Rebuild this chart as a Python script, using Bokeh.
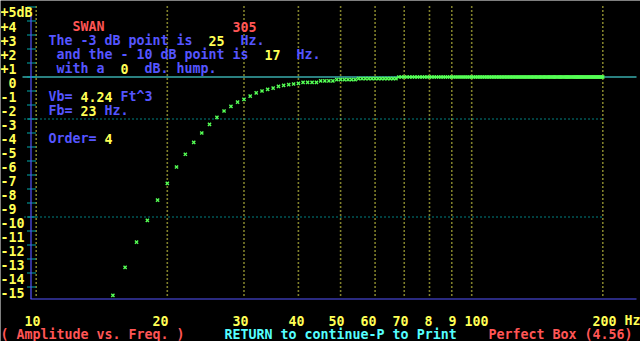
from bokeh.plotting import figure
from bokeh.models import Range1d, LinearScale, Label
from bokeh.embed import file_html
from bokeh.resources import INLINE

# ---------------- data ----------------
freq_hz = [
    15, 16, 17, 18, 19, 20, 21, 22, 23, 24, 25, 26, 27, 28, 29, 30, 31, 32, 33, 34,
    35, 36, 37, 38, 39, 40, 41, 42, 43, 44, 45, 46, 47, 48, 49, 50, 51, 52, 53, 54,
    55, 56, 57, 58, 59, 60, 61, 62, 63, 64, 65, 66, 67, 68, 69, 70, 71, 72, 73, 74,
    75, 76, 77, 78, 79, 80, 81, 82, 83, 84, 85, 86, 87, 88, 89, 90, 91, 92, 93, 94,
    95, 96, 97, 98, 99, 100, 101, 102, 103, 104, 105, 106, 107, 108, 109, 110, 111, 112, 113, 114,
    115, 116, 117, 118, 119, 120, 121, 122, 123, 124, 125, 126, 127, 128, 129, 130, 131, 132, 133, 134,
    135, 136, 137, 138, 139, 140, 141, 142, 143, 144, 145, 146, 147, 148, 149, 150, 151, 152, 153, 154,
    155, 156, 157, 158, 159, 160, 161, 162, 163, 164, 165, 166, 167, 168, 169, 170, 171, 172, 173, 174,
    175, 176, 177, 178, 179, 180, 181, 182, 183, 184, 185, 186, 187, 188, 189, 190, 191, 192, 193, 194,
    195, 196, 197, 198, 199, 200,
]
level_db = [
    -15.6, -13.6, -11.8, -10.24, -8.8, -7.6, -6.43, -5.52, -4.67, -4.0,
    -3.38, -2.88, -2.43, -2.1, -1.79, -1.6, -1.36, -1.14, -1.0, -0.88,
    -0.79, -0.67, -0.6, -0.55, -0.5, -0.45, -0.38, -0.38, -0.38, -0.38,
    -0.28, -0.28, -0.28, -0.28, -0.19, -0.19, -0.19, -0.19, -0.19, -0.19,
    -0.11, -0.11, -0.11, -0.11, -0.11, -0.11, -0.11, -0.11, -0.11, -0.11,
    -0.11, -0.11, -0.11, 0, 0, 0, 0, 0, 0, 0,
    0, 0, 0, 0, 0, 0, 0, 0, 0, 0, 0, 0, 0, 0, 0, 0, 0, 0, 0, 0,
    0, 0, 0, 0, 0, 0, 0, 0, 0, 0, 0, 0, 0, 0, 0, 0, 0, 0, 0, 0,
    0, 0, 0, 0, 0, 0, 0, 0, 0, 0, 0, 0, 0, 0, 0, 0, 0, 0, 0, 0,
    0, 0, 0, 0, 0, 0, 0, 0, 0, 0, 0, 0, 0, 0, 0, 0, 0, 0, 0, 0,
    0, 0, 0, 0, 0, 0, 0, 0, 0, 0, 0, 0, 0, 0, 0, 0, 0, 0, 0, 0,
    0, 0, 0, 0, 0, 0, 0, 0, 0, 0, 0, 0, 0, 0, 0, 0, 0, 0, 0, 0,
    0, 0, 0, 0, 0, 0,
]

grid_freqs = [10, 20, 30, 40, 50, 60, 70, 80, 90, 100, 200]
x_tick_labels = ["10", "20", "30", "40", "50", "60", "70", "8", "9", "100", "200"]
x_tick_cols = [3, 19, 29, 36, 41, 45, 49, 53, 56, 58, 74]

y_tick_values = [5, 4, 3, 2, 1, 0, -1, -2, -3, -4, -5, -6, -7, -8, -9, -10,
                 -11, -12, -13, -14, -15]
y_tick_labels = ["+5dB", "+4", "+3", "+2", "+1", "0", "-1", "-2", "-3", "-4", "-5",
                 "-6", "-7", "-8", "-9", "-10", "-11", "-12", "-13", "-14", "-15"]
ref_levels = [-3, -10]

# ---------------- palette / layout ----------------
YELLOW = "#FFFF55"
BLUE = "#5555FF"
RED = "#FF5555"
LCYAN = "#55FFFF"
TEAL = "#00AAAA"
GREEN = "#55FF55"

W, H = 640, 341
PX_PER_DEC = 435.5
PX_OFF = -399.8
PX_PER_DB = 14.0
ZERO_PX = 76.5
CELL_W, CELL_H = 8, 14
FONT = "DejaVu Sans Mono"
FSIZE = "13.3px"

x0 = 10 ** ((0 - PX_OFF) / PX_PER_DEC)
x1 = 10 ** ((W - PX_OFF) / PX_PER_DEC)
ytop = ZERO_PX / PX_PER_DB
ybot = -(H - ZERO_PX) / PX_PER_DB

p = figure(width=W, height=H, x_axis_type="log",
           x_range=Range1d(x0, x1), y_range=Range1d(ybot, ytop),
           x_axis_location=None, y_axis_location=None,
           toolbar_location=None, output_backend="svg",
           min_border=0, min_border_left=0, min_border_right=0,
           min_border_top=0, min_border_bottom=0,
           background_fill_color="black", border_fill_color="black",
           outline_line_color=None)
p.grid.visible = False
p.extra_x_ranges = {"px": Range1d(0, W)}
p.extra_x_scales = {"px": LinearScale()}
p.extra_y_ranges = {"px": Range1d(H, 0)}
p.extra_y_scales = {"px": LinearScale()}

# vertical dotted frequency grid (x through the log scale, y in pixel rows)
n = len(grid_freqs)
p.segment(x0=grid_freqs, x1=grid_freqs, y0=[6] * n, y1=[297] * n,
          y_range_name="px", line_color=YELLOW, line_width=1.6, line_dash="1 3")

# dotted reference levels
m = len(ref_levels)
p.segment(x0=[24] * m, x1=[603] * m, y0=ref_levels, y1=ref_levels,
          x_range_name="px", line_color=TEAL, line_width=1.5, line_dash="1 3")

# 0 dB line
p.segment(x0=[22], x1=[636], y0=[0], y1=[0], x_range_name="px",
          line_color=LCYAN, line_width=1.2)

# y ticks
k = len(y_tick_values)
p.segment(x0=[26.5] * k, x1=[35.5] * k, y0=y_tick_values, y1=y_tick_values,
          x_range_name="px", line_color=TEAL, line_width=1.2)

# axis lines
p.segment(x0=[30.5, 30], x1=[30.5, 636], y0=[15, 298.5], y1=[298.5, 298.5],
          x_range_name="px", y_range_name="px", line_color=BLUE, line_width=1.2)

# response points
p.scatter(freq_hz, level_db, marker="x", size=4.5, line_color=GREEN, line_width=1.4)


def cell(col, row, text, color):
    p.add_layout(Label(x=col * CELL_W, y=H - (row * CELL_H + 12),
                       x_units="screen", y_units="screen", text=text,
                       text_color=color, text_font=FONT, text_font_size=FSIZE,
                       text_font_style="bold", text_align="left",
                       text_baseline="alphabetic"))


# y labels
for v, t in zip(y_tick_values, y_tick_labels):
    col = 1 if t == "0" else 0
    cell(col, 5 - v, t, YELLOW)

# x labels
for c, t in zip(x_tick_cols, x_tick_labels):
    cell(c, 22, t, YELLOW)
cell(78, 22, "Hz", YELLOW)

# info texts
texts = [
    (9, 1, "SWAN", RED), (29, 1, "305", RED),
    (6, 2, "The -3 dB point is", BLUE), (26, 2, "25", YELLOW), (30, 2, "Hz.", BLUE),
    (7, 3, "and the - 10 dB point is", BLUE), (33, 3, "17", YELLOW), (37, 3, "Hz.", BLUE),
    (7, 4, "with a", BLUE), (15, 4, "0", YELLOW), (18, 4, "dB. hump.", BLUE),
    (6, 6, "Vb=", BLUE), (10, 6, "4.24", YELLOW), (15, 6, "Ft^3", BLUE),
    (6, 7, "Fb=", BLUE), (10, 7, "23", YELLOW), (13, 7, "Hz.", BLUE),
    (6, 9, "Order=", BLUE), (13, 9, "4", YELLOW),
    (0, 23, "( Amplitude vs. Freq. )", RED),
    (28, 23, "RETURN to continue-P to Print", LCYAN),
    (61, 23, "Perfect Box (4.56)", RED),
]
for c, r, t, col in texts:
    cell(c, r, t, col)

open("out.html", "w").write(file_html(p, INLINE))
